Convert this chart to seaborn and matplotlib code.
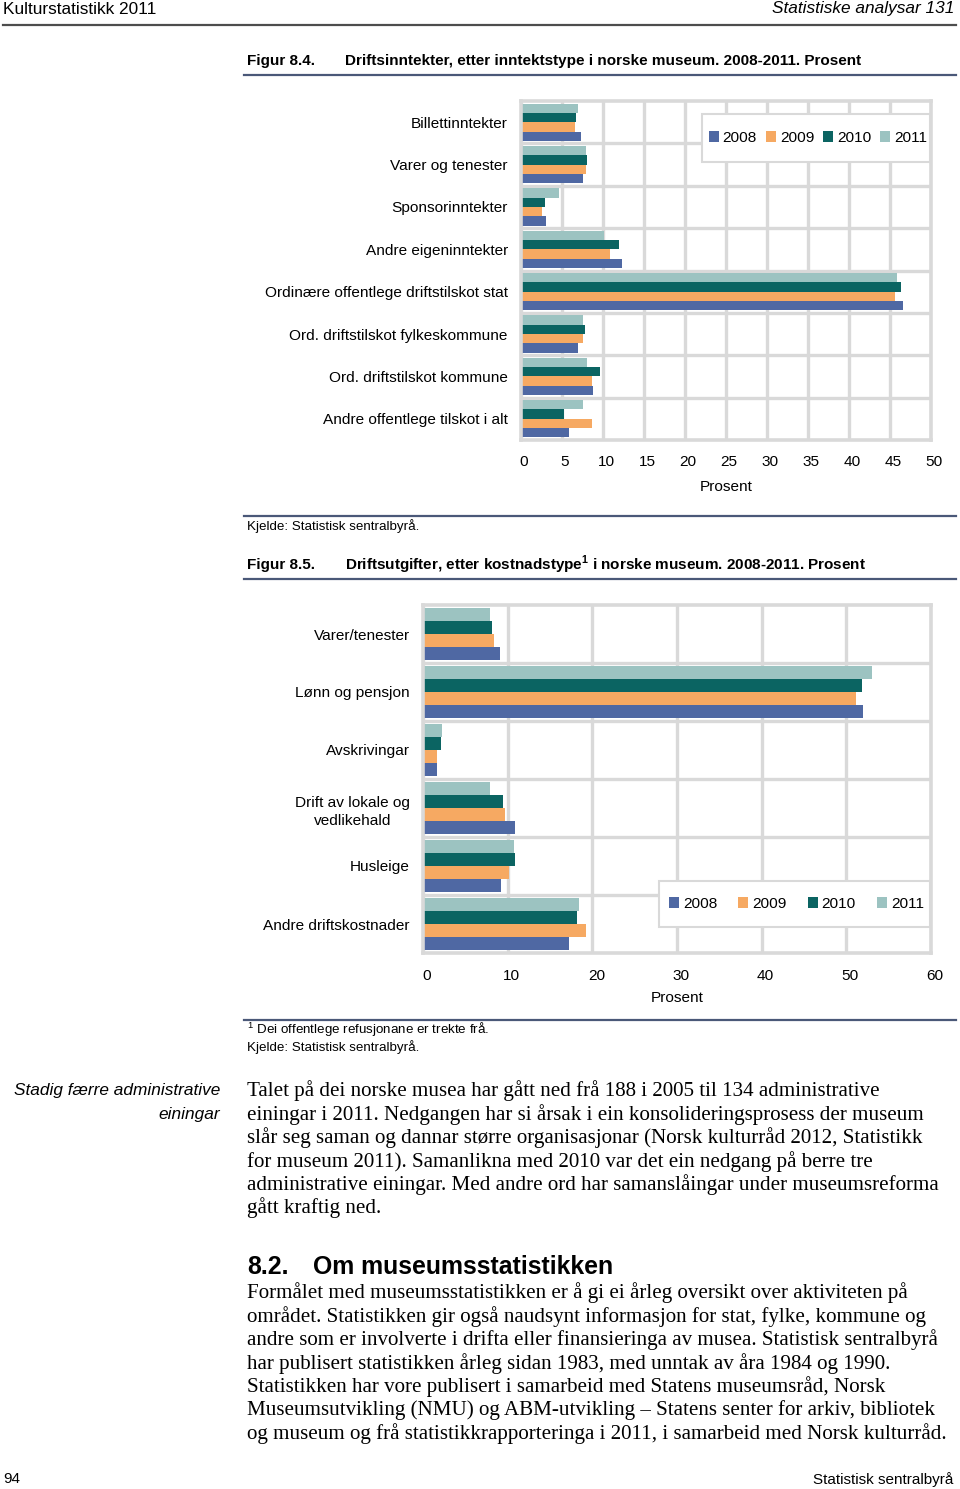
import matplotlib
matplotlib.use("Agg")
import matplotlib.pyplot as plt
import seaborn as sns
import pandas as pd
import numpy as np
from matplotlib.patches import Patch, Rectangle
from matplotlib.lines import Line2D
from matplotlib.transforms import ScaledTranslation

# ---------------- data ----------------
years = ["2008", "2009", "2010", "2011"]

cats1 = ["Billettinntekter", "Varer og tenester", "Sponsorinntekter",
         "Andre eigeninntekter", "Ordinære offentlege driftstilskot stat",
         "Ord. driftstilskot fylkeskommune", "Ord. driftstilskot kommune",
         "Andre offentlege tilskot i alt"]
inc_2008 = [7.3, 7.6, 3.1, 12.3, 46.6, 6.9, 8.8, 5.9]
inc_2009 = [6.6, 7.9, 2.5, 10.9, 45.6, 7.6, 8.6, 8.7]
inc_2010 = [6.7, 8.0, 2.9, 11.9, 46.3, 7.8, 9.6, 5.2]
inc_2011 = [7.0, 7.9, 4.6, 10.1, 45.9, 7.5, 8.0, 7.5]

cats2 = ["Varer/tenester", "Lønn og pensjon", "Avskrivingar",
         "Drift av lokale og\nvedlikehald", "Husleige", "Andre driftskostnader"]
exp_2008 = [9.1, 52.0, 1.7, 10.9, 9.2, 17.2]
exp_2009 = [8.4, 51.1, 1.6, 9.7, 10.2, 19.3]
exp_2010 = [8.1, 51.8, 2.1, 9.4, 10.9, 18.2]
exp_2011 = [7.9, 53.0, 2.2, 7.9, 10.7, 18.4]

ticks1 = [0, 5, 10, 15, 20, 25, 30, 35, 40, 45, 50]
ticks2 = [0, 10, 20, 30, 40, 50, 60]

colors = {"2008": "#4F68A3", "2009": "#F6A962", "2010": "#0B6462", "2011": "#9CC3C1"}

SANS = ["Liberation Sans", "DejaVu Sans"]
SERIF = ["Liberation Serif", "DejaVu Serif"]
plt.rcParams["font.family"] = SANS

W, H = 960, 1489
fig = plt.figure(figsize=(W / 100, H / 100), dpi=100)


def fx(x):
    return x / W


def fy(y):
    return 1 - y / H


def make_df(cats, series):
    rows = []
    for yr, vals in zip(years, series):
        for c, v in zip(cats, vals):
            rows.append((c, yr, v))
    return pd.DataFrame(rows, columns=["cat", "year", "value"])


def hline(x0, x1, y, color, lw):
    fig.add_artist(Line2D([fx(x0), fx(x1)], [fy(y), fy(y)], color=color, lw=lw,
                          transform=fig.transFigure))


def chart(box, cats, series, ticks, ylab_pad, xlab_pad, label_pad, fs, xshift):
    l, t, r, b = box
    ax = fig.add_axes([fx(l), fy(b), fx(r) - fx(l), fy(t) - fy(b)])
    df = make_df(cats, series)
    sns.barplot(data=df, x="value", y="cat", hue="year", hue_order=years[::-1],
                palette=colors, orient="h", width=0.88, ax=ax, legend=False,
                linewidth=0, saturation=1, errorbar=None)
    n = len(cats)
    ax.set_xlim(ticks[0], ticks[-1])
    ax.set_xticks(ticks)
    ax.set_ylim(n - 0.5, -0.5)
    ax.set_yticks(np.arange(n), labels=cats)
    ax.set_yticks(np.arange(0.5, n - 1, 1), minor=True)
    gc = "#D9D9D9"
    ax.grid(axis="x", which="major", color=gc, lw=2.4)
    ax.grid(axis="y", which="minor", color=gc, lw=2.4)
    ax.grid(axis="y", which="major", visible=False)
    ax.set_axisbelow(True)
    for s in ax.spines.values():
        s.set_color(gc)
        s.set_linewidth(2.6)
    ax.tick_params(axis="both", which="both", length=0, labelsize=fs, colors="#000000")
    ax.tick_params(axis="y", pad=ylab_pad)
    ax.tick_params(axis="x", pad=xlab_pad)
    for lab in ax.get_yticklabels():
        lab.set_multialignment("center")
        lab.set_linespacing(1.4)
    off = ScaledTranslation(xshift / 100, 0, fig.dpi_scale_trans)
    for lab in ax.get_xticklabels():
        lab.set_transform(lab.get_transform() + off)
    ax.set_ylabel("")
    ax.set_xlabel("Prosent", fontsize=fs, labelpad=label_pad)
    return ax


def legend_box(l, t, r, b, fs, colsp):
    fig.add_artist(Rectangle((fx(l), fy(b)), fx(r) - fx(l), fy(t) - fy(b),
                             transform=fig.transFigure, facecolor="white",
                             edgecolor="#D9D9D9", lw=1.5, zorder=3))
    handles = [Patch(facecolor=colors[y], edgecolor="none", label=y) for y in years]
    fig.legend(handles=handles, loc="center",
               bbox_to_anchor=(fx((l + r) / 2 + 2), fy((t + b) / 2)),
               ncol=4, frameon=False, fontsize=fs, handlelength=0.65,
               handleheight=0.65, handletextpad=0.26, columnspacing=colsp,
               borderpad=0.2)


# ---------------- page header ----------------
fig.text(fx(3), fy(9), "Kulturstatistikk 2011", fontsize=12.4, va="center", ha="left")
fig.text(fx(954), fy(9), "Statistiske analysar 131", fontsize=12.4, va="center",
         ha="right", style="italic")
hline(3, 956, 25, "#4d4d4d", 1.6)

# ---------------- figure 8.4 ----------------
fig.text(fx(247), fy(61), "Figur 8.4.", fontsize=11, fontweight="bold", va="center")
fig.text(fx(345), fy(61), "Driftsinntekter, etter inntektstype i norske museum. 2008-2011. Prosent",
         fontsize=11, fontweight="bold", va="center")
hline(244, 956, 75, "#4a5878", 1.6)

ax1 = chart((521, 101, 931, 440), cats1, [inc_2008, inc_2009, inc_2010, inc_2011],
            ticks1, ylab_pad=9.5, xlab_pad=10.5, label_pad=8.5, fs=11.1, xshift=3)
legend_box(702, 114, 930, 162, 11.1, 0.58)

hline(244, 956, 516, "#4a5878", 1.6)
fig.text(fx(247), fy(526), "Kjelde: Statistisk sentralbyrå.", fontsize=9.6, va="center")

# ---------------- figure 8.5 ----------------
fig.text(fx(247), fy(565), "Figur 8.5.", fontsize=11, fontweight="bold", va="center")
fig.text(fx(345), fy(565), r"Driftsutgifter, etter kostnadstype$^{\mathregular{1}}$ i norske museum. 2008-2011. Prosent",
         fontsize=11, fontweight="bold", va="center")
hline(244, 956, 579, "#4a5878", 1.6)

ax2 = chart((423, 605, 931, 953), cats2, [exp_2008, exp_2009, exp_2010, exp_2011],
            ticks2, ylab_pad=9.5, xlab_pad=11.5, label_pad=5.5, fs=11.1, xshift=4)
legend_box(659, 881, 930, 927, 11.1, 1.36)

hline(244, 956, 1020, "#4a5878", 1.6)
fig.text(fx(247), fy(1030), r"$^{\mathregular{1}}$ Dei offentlege refusjonane er trekte frå.",
         fontsize=9.6, va="center")
fig.text(fx(247), fy(1047), "Kjelde: Statistisk sentralbyrå.", fontsize=9.6, va="center")

# ---------------- body text ----------------
fig.text(fx(220), fy(1091), "Stadig færre administrative", fontsize=12.4, style="italic",
         ha="right", va="center")
fig.text(fx(220), fy(1115), "einingar", fontsize=12.4, style="italic", ha="right", va="center")

para1 = [
    "Talet på dei norske musea har gått ned frå 188 i 2005 til 134 administrative",
    "einingar i 2011. Nedgangen har si årsak i ein konsolideringsprosess der museum",
    "slår seg saman og dannar større organisasjonar (Norsk kulturråd 2012, Statistikk",
    "for museum 2011). Samanlikna med 2010 var det ein nedgang på berre tre",
    "administrative einingar. Med andre ord har samanslåingar under museumsreforma",
    "gått kraftig ned.",
]
for i, line in enumerate(para1):
    fig.text(fx(247), fy(1091 + i * 23.4), line, fontsize=15.1, family=SERIF, va="center")

fig.text(fx(247), fy(1267), "8.2.", fontsize=17.9, fontweight="bold", va="center")
fig.text(fx(313), fy(1267), "Om museumsstatistikken", fontsize=17.9, fontweight="bold", va="center")

para2 = [
    "Formålet med museumsstatistikken er å gi ei årleg oversikt over aktiviteten på",
    "området. Statistikken gir også naudsynt informasjon for stat, fylke, kommune og",
    "andre som er involverte i drifta eller finansieringa av musea. Statistisk sentralbyrå",
    "har publisert statistikken årleg sidan 1983, med unntak av åra 1984 og 1990.",
    "Statistikken har vore publisert i samarbeid med Statens museumsråd, Norsk",
    "Museumsutvikling (NMU) og ABM-utvikling – Statens senter for arkiv, bibliotek",
    "og museum og frå statistikkrapporteringa i 2011, i samarbeid med Norsk kulturråd.",
]
for i, line in enumerate(para2):
    fig.text(fx(247), fy(1293 + i * 23.4), line, fontsize=15.1, family=SERIF, va="center")

# ---------------- footer ----------------
fig.text(fx(3), fy(1479), "94", fontsize=11, va="center")
fig.text(fx(953), fy(1480), "Statistisk sentralbyrå", fontsize=11, va="center", ha="right")

fig.savefig("out.png", dpi=100, facecolor="white")
